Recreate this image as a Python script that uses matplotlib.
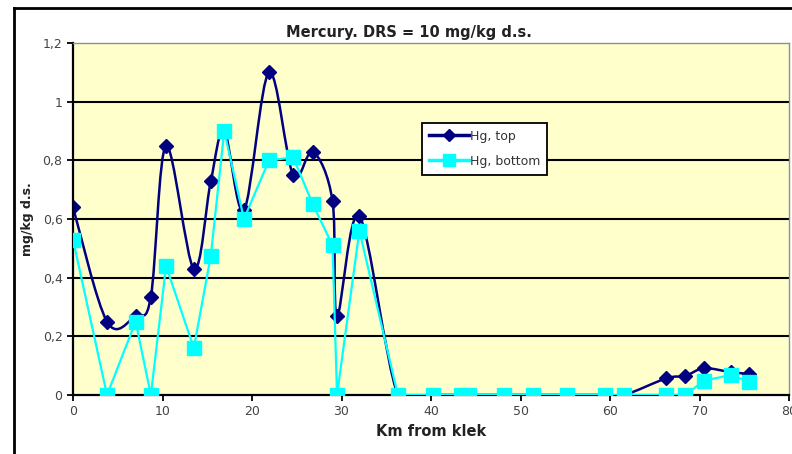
import numpy as np
import matplotlib.pyplot as plt
from matplotlib.path import Path
from matplotlib.patches import PathPatch
from matplotlib.lines import Line2D

plt.rcParams['font.family'] = ['DejaVu Sans']

# km from Klek and mercury levels (mg/kg d.s.)
km = [0, 3.8, 7.0, 8.7, 10.4, 13.5, 15.4, 16.9, 19.1, 21.9, 24.6, 26.8, 29.0, 29.5,
      32.0, 36.3, 40.2, 43.3, 44.3, 48.2, 51.4, 55.2, 59.4, 61.6, 66.3, 68.4,
      70.5, 73.5, 75.5]
hg_top = [0.64, 0.25, 0.27, 0.335, 0.85, 0.43, 0.73, 0.9, 0.63, 1.1, 0.75, 0.83, 0.66, 0.27,
          0.61, 0, 0, 0, 0, 0, 0, 0, 0, 0, 0.057, 0.065,
          0.091, 0.078, 0.072]
hg_bottom = [0.53, 0, 0.25, 0, 0.44, 0.16, 0.475, 0.9, 0.6, 0.8, 0.81, 0.65, 0.51, 0,
             0.56, 0, 0, 0, 0, 0, 0, 0, 0, 0, 0, 0,
             0.049, 0.068, 0.045]

top_color = '#000080'
bottom_color = '#00FFFF'


def smooth_path(x, y):
    # Excel-style smoothed line: cubic Bezier segments with Catmull-Rom tangents
    pts = np.column_stack([x, y])
    n = len(pts)
    verts = [pts[0]]
    codes = [Path.MOVETO]
    for i in range(n - 1):
        p0 = pts[max(i - 1, 0)]
        p1 = pts[i]
        p2 = pts[i + 1]
        p3 = pts[min(i + 2, n - 1)]
        c1 = p1 + (p2 - p0) / 6
        c2 = p2 - (p3 - p1) / 6
        verts += [c1, c2, p2]
        codes += [Path.CURVE4] * 3
    return Path(verts, codes)


fig = plt.figure(figsize=(7.92, 4.54), dpi=100)
ax = fig.add_axes([73 / 792, 59 / 454, 716 / 792, 352 / 454])
ax.set_facecolor('#FFFFCC')

for yv in [0.2, 0.4, 0.6, 0.8, 1.0]:
    ax.axhline(yv, color='black', lw=1.5, zorder=1)

ax.plot(km, hg_bottom, color=bottom_color, lw=1.6, marker='s', ms=10.5,
        mec=bottom_color, mfc=bottom_color, zorder=3)
ax.add_patch(PathPatch(smooth_path(km, hg_top), fill=False, edgecolor=top_color,
                       lw=1.8, zorder=2))
ax.plot(km, hg_top, linestyle='none', marker='D', ms=7.5, color=top_color, zorder=2.5)

ax.set_xlim(0, 80)
ax.set_ylim(0, 1.2)
ax.set_xticks(range(0, 81, 10))
ax.set_yticks([0, 0.2, 0.4, 0.6, 0.8, 1.0, 1.2])
ax.set_yticklabels(['0', '0,2', '0,4', '0,6', '0,8', '1', '1,2'])
ax.tick_params(labelsize=9, labelcolor='#444444', direction='out', length=4, width=1.3)

for side in ['left', 'bottom']:
    ax.spines[side].set_color('black')
    ax.spines[side].set_linewidth(1.6)
for side in ['top', 'right']:
    ax.spines[side].set_color('#909090')
    ax.spines[side].set_linewidth(1.0)

ax.set_xlabel('Km from klek', fontsize=10.5, fontweight='bold', color='#222222', labelpad=4)
ax.set_ylabel('mg/kg d.s.', fontsize=9, fontweight='bold', color='#222222', labelpad=6)

fig.text(409 / 792, 1 - 32 / 454, 'Mercury. DRS = 10 mg/kg d.s.', ha='center', va='center',
         fontsize=10.5, fontweight='bold', color='#222222')

handles = [Line2D([], [], color=top_color, lw=2.5, marker='D', ms=6),
           Line2D([], [], color=bottom_color, lw=2.5, marker='s', ms=9)]
leg = ax.legend(handles, ['Hg, top', 'Hg, bottom'], loc='upper left',
                bbox_to_anchor=(0.487, 0.773), fontsize=9, fancybox=False,
                framealpha=1, edgecolor='black', handlelength=3.2, handletextpad=0.1,
                borderpad=0.55, labelspacing=0.95, borderaxespad=0)
leg.get_frame().set_linewidth(1.3)
for t in leg.get_texts():
    t.set_color('#333333')

# chart area frame
fig.add_artist(Line2D([14 / 792, 14 / 792], [0, 1 - 8 / 454], color='black', lw=2,
                      transform=fig.transFigure))
fig.add_artist(Line2D([14 / 792, 1], [1 - 8 / 454, 1 - 8 / 454], color='black', lw=2,
                      transform=fig.transFigure))

fig.savefig('out.png', dpi=100)
